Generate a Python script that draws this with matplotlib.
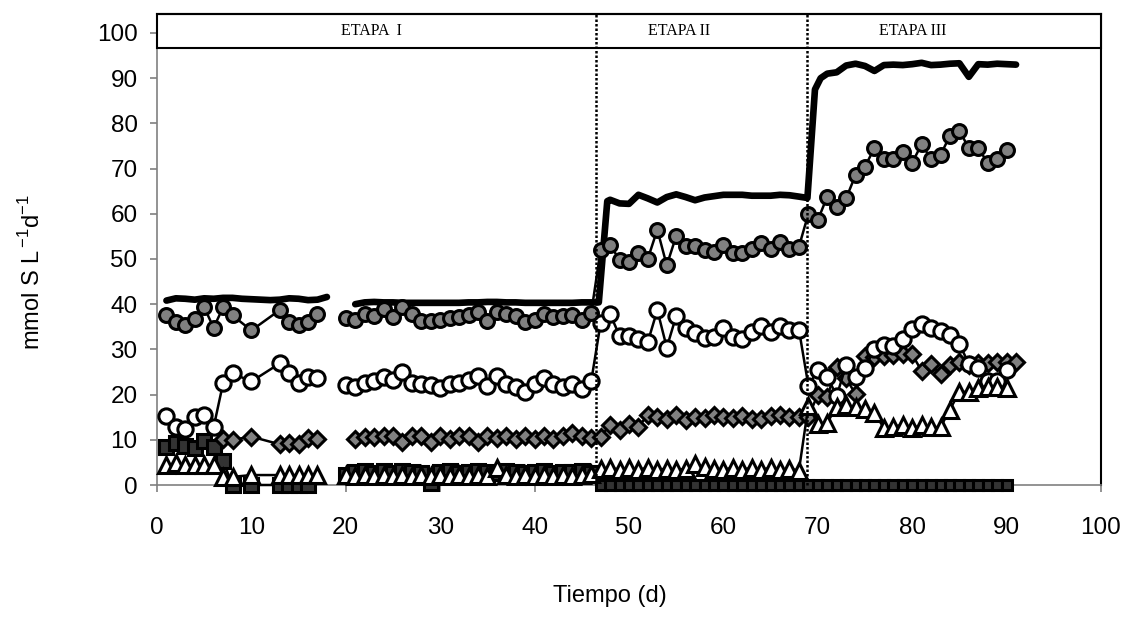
import numpy as np
import matplotlib
matplotlib.use("Agg")
import matplotlib.pyplot as plt
from matplotlib.patches import Rectangle

# ---------------- data ----------------
days_I = [1, 2, 3, 4, 5, 6, 7, 8, 10, 13, 14, 15, 16, 17]
days_Ib = list(range(20, 47))          # 20..46
days_II = list(range(47, 69))          # 47..68
days_III = list(range(69, 91))         # 69..90

gray_I = [37.6, 36.0, 35.4, 36.7, 39.3, 34.8, 39.3, 37.5, 34.2, 38.7, 36.1, 35.4, 36.1, 37.8]
gray_Ib = [36.9, 36.4, 37.8, 37.3, 38.9, 37.1, 39.4, 37.8, 36.2, 36.2, 36.6, 36.9, 37.2, 37.6,
           38.3, 36.2, 38.3, 37.9, 37.3, 36.0, 36.6, 37.8, 37.2, 37.3, 37.6, 36.4, 38.1]
gray_II = [52.1, 53.1, 49.8, 49.3, 51.4, 50.1, 56.5, 48.6, 55.1, 52.9, 52.9, 52.0, 51.6, 53.0,
           51.3, 51.3, 52.2, 53.6, 52.2, 53.8, 52.3, 52.7]
gray_III = [60.0, 58.6, 63.8, 61.4, 63.4, 68.6, 70.4, 74.6, 72.1, 72.1, 73.7, 71.3, 75.4, 72.1,
            73.0, 77.3, 78.4, 74.5, 74.5, 71.3, 72.1, 74.1]

white_I = [15.3, 12.9, 12.3, 15.0, 15.5, 12.8, 22.5, 24.7, 22.9, 26.9, 24.7, 22.5, 24.0, 23.6]
white_Ib = [22.1, 21.7, 22.6, 22.9, 23.8, 23.2, 25.1, 22.6, 22.3, 22.1, 21.4, 22.3, 22.6, 23.2,
            24.1, 21.9, 24.1, 22.3, 21.7, 20.6, 22.3, 23.6, 22.3, 21.7, 22.3, 21.2, 23.0]
white_II = [35.9, 37.8, 33.0, 33.0, 32.4, 31.7, 38.7, 30.4, 37.4, 34.7, 33.6, 32.6, 32.8, 34.7,
            32.8, 32.4, 33.9, 35.2, 33.9, 35.2, 34.4, 34.4]
white_III = [22.0, 25.4, 24.0, 19.7, 26.5, 23.9, 25.9, 30.1, 31.0, 30.7, 32.2, 34.5, 35.6, 34.7,
             34.0, 33.2, 31.2, 26.8, 25.8, 22.9, 22.9, 25.4]

dia_days_I = [7, 8, 10, 13, 14, 15, 16, 17]
dia_I = [10.2, 10.0, 10.7, 9.0, 9.4, 9.1, 10.3, 10.1]
dia_days_Ib = list(range(21, 47))      # 21..46
dia_Ib = [10.1, 10.7, 10.6, 10.9, 10.8, 9.6, 10.8, 10.8, 9.6, 10.8, 10.1, 10.8, 10.8, 9.6,
          10.8, 10.3, 10.8, 10.1, 10.8, 10.1, 10.8, 10.1, 10.8, 11.4, 10.8, 10.3]
dia_days_II = list(range(47, 70))      # 47..69
dia_II = [10.7, 13.3, 12.2, 13.6, 12.9, 15.5, 15.1, 14.7, 15.5, 14.4, 15.1, 14.9, 15.5, 15.1,
          14.9, 15.2, 14.7, 14.7, 15.2, 15.5, 15.1, 15.1, 15.1]
dia_days_III = list(range(70, 92))     # 70..91
dia_III = [20.0, 19.5, 26.0, 23.6, 20.1, 28.6, 28.3, 28.6, 28.8, 29.0, 28.9, 25.2, 26.7, 24.5,
           26.5, 27.3, 26.5, 27.1, 27.0, 27.2, 27.3, 27.3]

tri_days_I = [1, 2, 3, 4, 5, 6, 7, 8, 10, 13, 14, 15, 16, 17]
tri_I = [4.4, 4.8, 4.4, 4.4, 4.4, 4.4, 1.8, 1.8, 2.2, 2.2, 2.2, 2.2, 2.2, 2.2]
tri_Ib = [2.2, 2.0, 2.3, 2.1, 2.2, 2.0, 2.3, 2.1, 2.2, 2.0, 2.2, 2.1, 2.3, 2.0, 2.2, 2.1, 3.7,
          2.2, 2.0, 2.3, 2.1, 2.2, 2.0, 2.3, 2.1, 2.2, 2.4]
tri_II = [3.5, 3.8, 3.4, 3.8, 3.4, 3.8, 3.4, 3.6, 3.3, 3.6, 4.6, 4.0, 3.6, 3.4, 3.8, 3.4, 3.8,
          3.4, 3.8, 3.4, 3.6, 3.2]
tri_III = [17.5, 13.6, 13.8, 17.3, 17.6, 17.3, 16.9, 16.0, 12.6, 12.9, 13.3, 12.6, 13.2, 12.8,
           12.8, 16.7, 20.6, 20.6, 21.4, 21.7, 21.7, 21.4]

sq_days_I = [1, 2, 3, 4, 5, 6, 7, 8, 10, 13, 14, 15, 16]
sq_I = [8.4, 9.4, 8.6, 8.2, 9.8, 8.4, 5.3, 0.0, 0.0, 0.0, 0.0, 0.0, 0.0]
sq_Ib = [2.2, 2.8, 3.0, 2.6, 3.1, 2.7, 3.0, 2.8, 2.6, 0.5, 2.8, 3.0, 2.7, 2.9, 3.1, 2.8, 2.6,
         3.0, 2.9, 2.7, 2.8, 3.0, 2.6, 2.9, 2.8, 3.0, 2.7]
sq_days_II = list(range(47, 91))
sq_II = [0.0] * len(sq_days_II)

tot_days_I = list(range(1, 19))
tot_I = [40.8, 41.3, 41.2, 41.0, 41.3, 41.2, 41.4, 41.4, 41.2, 41.1, 41.0, 40.9, 41.0, 41.3,
         41.2, 40.9, 41.0, 41.6]
tot_days_II = list(range(21, 47)) + [46.8, 47.7] + list(range(48, 69)) + [68.9, 69.7, 70.3] + list(range(71, 92))
tot_II = ([40.0, 40.4, 40.5, 40.4, 40.4, 40.3, 40.3, 40.3, 40.3, 40.3, 40.3, 40.3, 40.4, 40.4,
           40.5, 40.5, 40.4, 40.4, 40.3, 40.3, 40.3, 40.3, 40.3, 40.3, 40.4, 40.4]
          + [40.4, 62.8]
          + [63.1, 62.3, 62.2, 64.2, 63.4, 62.5, 63.7, 64.3, 63.7, 63.0, 63.6, 63.9, 64.2, 64.2,
             64.2, 64.0, 64.0, 64.0, 64.2, 64.1, 63.8]
          + [63.5, 87.5, 90.0]
          + [91.0, 91.3, 92.8, 93.2, 92.7, 91.6, 92.9, 93.0, 92.9, 93.1, 93.4, 92.9, 93.0, 93.2,
             93.3, 90.3, 93.1, 93.0, 93.2, 93.1, 93.0])

stage_bounds = [46.5, 68.9]
stage_labels = ["ETAPA  I", "ETAPA II", "ETAPA III"]
stage_label_x = [22.7, 55.3, 80.1]

# ---------------- plot ----------------
plt.rcParams['font.family'] = ['Liberation Sans', 'DejaVu Sans']
fig = plt.figure(figsize=(11.3, 6.37), dpi=100)
ax = fig.add_axes([157 / 1130, 1 - 485 / 637, (1101 - 157) / 1130, (485 - 14) / 637])

ax.set_xlim(0, 100)
ax.set_ylim(0, 104.2)

lc = 'black'
MEW = 2.2
# total line
ax.plot(tot_days_I, tot_I, color=lc, lw=4.8, zorder=2, solid_capstyle='round')
ax.plot(tot_days_II, tot_II, color=lc, lw=4.8, zorder=2, solid_capstyle='round')

def series(d, v, marker, fc, ms, z):
    ax.plot(d, v, color=lc, lw=1.8, marker=marker, ms=ms, mfc=fc, mec='black', mew=MEW,
            zorder=z, clip_on=False)

sq_col = '#333333'
series(sq_days_I, sq_I, 's', sq_col, 9.5, 3)
series(days_Ib, sq_Ib, 's', sq_col, 9.5, 3)
series(sq_days_II, sq_II, 's', sq_col, 7.8, 3)

series(dia_days_I, dia_I, 'D', '#808080', 8.2, 4)
series(dia_days_Ib, dia_Ib, 'D', '#808080', 8.2, 4)
series(dia_days_II, dia_II, 'D', '#808080', 8.2, 4)
series(dia_days_III, dia_III, 'D', '#808080', 8.2, 4)

series(days_I, white_I, 'o', 'white', 11, 5)
series(days_Ib, white_Ib, 'o', 'white', 11, 5)
series(days_II, white_II, 'o', 'white', 11, 5)
series(days_III, white_III, 'o', 'white', 11, 5)
series([46, 47], [white_Ib[-1], white_II[0]], None, 'white', 0, 4.5)
series([68, 69], [white_II[-1], white_III[0]], None, 'white', 0, 4.5)

series(tri_days_I, tri_I, '^', 'white', 11, 6)
series(days_Ib, tri_Ib, '^', 'white', 11, 6)
series(days_II, tri_II, '^', 'white', 11, 6)
series(days_III, tri_III, '^', 'white', 11, 6)
series([46, 47], [tri_Ib[-1], tri_II[0]], None, 'white', 0, 5.5)
series([68, 69], [tri_II[-1], tri_III[0]], None, 'white', 0, 5.5)

series(days_I, gray_I, 'o', '#808080', 10, 7)
series(days_Ib, gray_Ib, 'o', '#808080', 10, 7)
series(days_II, gray_II, 'o', '#808080', 10, 7)
series(days_III, gray_III, 'o', '#808080', 10, 7)
series([46, 47], [gray_Ib[-1], gray_II[0]], None, 'white', 0, 6.5)
series([68, 69], [gray_II[-1], gray_III[0]], None, 'white', 0, 6.5)
series([46, 47], [dia_Ib[-1], dia_II[0]], None, 'white', 0, 3.5)
series([69, 70], [dia_II[-1], dia_III[0]], None, 'white', 0, 3.5)

# header box
ax.add_patch(Rectangle((0, 96.7), 100, 104.2 - 96.7, facecolor='white', edgecolor='black',
                       lw=1.5, zorder=8, clip_on=False))
for xb in stage_bounds:
    ax.plot([xb, xb], [0, 104.2], color='black', lw=1.8, ls=(0, (1, 0.8)), zorder=9, clip_on=False)
for lab, xl in zip(stage_labels, stage_label_x):
    ax.text(xl, 100.45, lab, ha='center', va='center', fontsize=11.5,
            family='Liberation Serif', zorder=10)

# spines and ticks
for s in ['left', 'bottom']:
    ax.spines[s].set_color('#808080')
    ax.spines[s].set_linewidth(1.2)
for s in ['right', 'top']:
    ax.spines[s].set_color('black')
    ax.spines[s].set_linewidth(1.5)
ax.spines['top'].set_zorder(10)

ax.set_xticks(np.arange(0, 101, 10))
ax.set_yticks(np.arange(0, 101, 10))
ax.tick_params(direction='out', length=5, width=1.2, color='#808080', labelsize=17.5, pad=9)
ax.tick_params(axis='x', pad=18)

fig.text(610 / 1130, 1 - 596 / 637, "Tiempo (d)", ha='center', va='center', fontsize=17)
fig.text(32 / 1130, 1 - 272 / 637, r"mmol S L$^{\,\mathregular{-1}}$d$^{\mathregular{-1}}$",
         ha='center', va='center', rotation=90, fontsize=17)

fig.savefig("out.png", dpi=100)
